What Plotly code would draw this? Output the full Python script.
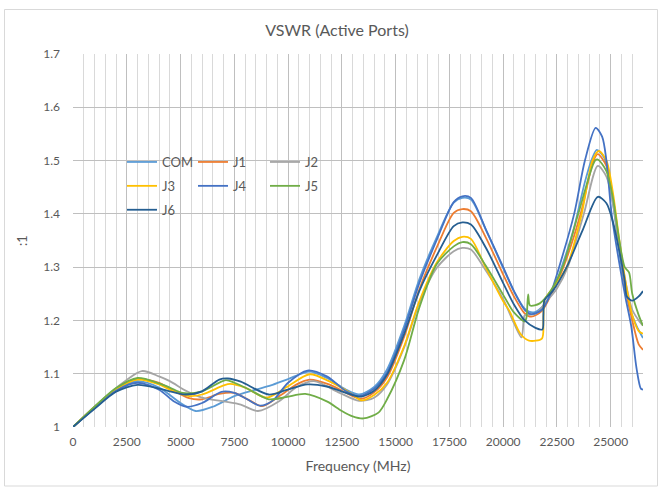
import plotly.graph_objects as go

# ---------------- data ----------------
COM_F = [0, 1000, 2000, 3000, 4000, 5000, 5700, 6500, 7500, 8500, 9200, 10000, 11000, 11800, 12700, 13300,
         14000, 14600, 15400, 16100, 16900, 17700, 18100, 18500, 19200, 20000, 20500, 21000, 21400, 21800,
         22300, 22800, 23300, 23800, 24100, 24350, 24700, 25100, 25500, 25900, 26200, 26500]
COM_V = [1.0, 1.036, 1.07, 1.086, 1.074, 1.045, 1.03, 1.038, 1.058, 1.07, 1.078, 1.09, 1.104, 1.092, 1.07, 1.061,
         1.075, 1.108, 1.19, 1.277, 1.355, 1.421, 1.43, 1.427, 1.37, 1.298, 1.255, 1.222, 1.215, 1.225,
         1.255, 1.31, 1.375, 1.46, 1.5, 1.52, 1.505, 1.42, 1.3, 1.22, 1.19, 1.167]

J1_F = [0, 1000, 2000, 3000, 4000, 4500, 5400, 6000, 6800, 7500, 8200, 8800, 9600, 10400, 11000, 11900, 13000,
        13400, 14000, 14600, 15400, 16100, 16900, 17700, 18100, 18500, 19200, 20000, 20500, 21000, 21300, 21800,
        22300, 22800, 23600, 24200, 24400, 24800, 25100, 25400, 25700, 26000, 26300, 26500]
J1_V = [1.0, 1.037, 1.071, 1.09, 1.083, 1.072, 1.054, 1.052, 1.062, 1.064, 1.05, 1.039, 1.058, 1.08, 1.089, 1.08, 1.058,
        1.053, 1.065, 1.093, 1.17, 1.258, 1.336, 1.402, 1.409, 1.405, 1.355, 1.286, 1.245, 1.213, 1.207, 1.218,
        1.255, 1.3, 1.4, 1.5, 1.512, 1.49, 1.43, 1.34, 1.26, 1.2, 1.155, 1.145]

J2_F = [0, 1000, 2000, 3200, 4000, 4500, 5300, 6000, 7000, 7800, 8600, 9600, 10400, 11200, 12400, 13300, 14000,
        14600, 15400, 16100, 16900, 17700, 18100, 18500, 19200, 20000, 20500, 20850, 20950, 21000, 21500, 22000,
        22500, 23000, 23750, 24400, 24800, 25100, 25400, 25700, 26000, 26300, 26500]
J2_V = [1.0, 1.038, 1.073, 1.105, 1.095, 1.086, 1.067, 1.055, 1.048, 1.042, 1.03, 1.049, 1.075, 1.086, 1.064, 1.049, 1.055,
        1.08, 1.15, 1.233, 1.298, 1.33, 1.336, 1.333, 1.293, 1.24, 1.195, 1.168, 1.2, 1.21, 1.212, 1.235,
        1.26, 1.3, 1.4, 1.49, 1.47, 1.42, 1.34, 1.27, 1.22, 1.2, 1.19]

J3_F = [0, 1000, 2000, 3000, 4000, 4500, 5400, 6000, 7000, 7300, 8000, 9000, 9900, 11000, 11900, 13000, 13400,
        14000, 14600, 15400, 16100, 16900, 17700, 18100, 18500, 19200, 20000, 20300, 20800, 21200, 21800, 21870,
        21920, 22300, 22950, 23650, 24150, 24450, 24800, 25100, 25400, 25700, 26000, 26300, 26500]
J3_V = [1.0, 1.037, 1.071, 1.089, 1.08, 1.07, 1.058, 1.061, 1.078, 1.081, 1.074, 1.055, 1.074, 1.099, 1.086, 1.061, 1.05,
        1.06, 1.083, 1.152, 1.236, 1.308, 1.349, 1.357, 1.353, 1.298, 1.236, 1.217, 1.175, 1.162, 1.166, 1.2,
        1.238, 1.26, 1.3, 1.4, 1.5, 1.518, 1.5, 1.44, 1.35, 1.27, 1.21, 1.18, 1.175]

J4_F = [0, 1000, 2000, 3000, 4000, 4700, 5300, 6000, 6900, 7500, 8100, 8700, 9300, 10000, 10900, 11800, 12700,
        13300, 14000, 14600, 15400, 16100, 16900, 17700, 18100, 18500, 19200, 20000, 20500, 21000, 21300, 21800,
        22200, 22600, 23300, 23800, 24300, 24600, 24800, 25040, 25430, 25700, 25950, 26200, 26400, 26500]
J4_V = [1.0, 1.035, 1.068, 1.083, 1.07, 1.048, 1.038, 1.045, 1.066, 1.064, 1.052, 1.04, 1.05, 1.083, 1.106, 1.095, 1.067,
        1.058, 1.072, 1.102, 1.183, 1.27, 1.35, 1.422, 1.433, 1.43, 1.37, 1.3, 1.255, 1.22, 1.212, 1.22,
        1.25, 1.3, 1.4, 1.5, 1.5615, 1.545, 1.5, 1.4, 1.3, 1.24, 1.19, 1.11, 1.072, 1.07]

J5_F = [0, 1000, 2000, 3000, 4000, 4500, 5100, 6000, 7100, 7500, 8200, 9100, 9900, 10800, 11800, 12500, 13000,
        13500, 14200, 14600, 15400, 16100, 16900, 17700, 18100, 18500, 19200, 20000, 20500, 21000, 21080, 21160,
        21250, 21700, 22200, 22760, 23490, 24270, 24400, 24800, 25100, 25400, 25650, 25850, 26000, 26300, 26500]
J5_V = [1.0, 1.038, 1.073, 1.092, 1.082, 1.074, 1.064, 1.067, 1.088, 1.083, 1.07, 1.052, 1.056, 1.062, 1.048, 1.03, 1.02,
        1.016, 1.027, 1.052, 1.126, 1.224, 1.305, 1.339, 1.347, 1.343, 1.302, 1.248, 1.215, 1.198, 1.205, 1.249,
        1.228, 1.232, 1.255, 1.3, 1.4, 1.5, 1.502, 1.48, 1.43, 1.35, 1.3, 1.29, 1.25, 1.21, 1.19]

J6_F = [0, 1000, 2000, 3000, 4000, 4500, 5200, 6000, 6800, 7200, 7800, 9100, 9900, 10900, 11800, 13000, 13400,
        14000, 14600, 15400, 16100, 16900, 17700, 18100, 18500, 19200, 20000, 20500, 21000, 21500, 21820, 21870,
        21920, 22300, 22950, 23700, 24400, 24800, 25100, 25400, 25650, 25750, 26000, 26300, 26500]
J6_V = [1.0, 1.034, 1.066, 1.079, 1.072, 1.067, 1.061, 1.067, 1.089, 1.091, 1.085, 1.061, 1.069, 1.08, 1.076, 1.06, 1.057,
        1.068, 1.098, 1.175, 1.255, 1.321, 1.377, 1.384, 1.38, 1.336, 1.27, 1.23, 1.2, 1.186, 1.183, 1.21,
        1.238, 1.255, 1.3, 1.37, 1.432, 1.42, 1.385, 1.33, 1.275, 1.245, 1.237, 1.245, 1.255]

SERIES_NAMES = ["COM", "J1", "J2", "J3", "J4", "J5", "J6"]
X_TICKS = [0, 2500, 5000, 7500, 10000, 12500, 15000, 17500, 20000, 22500, 25000]
Y_TICKS = [1, 1.1, 1.2, 1.3, 1.4, 1.5, 1.6, 1.7]

# ---------------- styling ----------------
COLORS = {"COM": "#5B9BD5", "J1": "#ED7D31", "J2": "#A5A5A5", "J3": "#FFC000",
          "J4": "#4472C4", "J5": "#70AD47", "J6": "#255E91"}
LEGEND_OF = {"COM": "legend", "J3": "legend", "J6": "legend",
             "J1": "legend2", "J4": "legend2",
             "J2": "legend3", "J5": "legend3"}
FONT = "Lato, 'Open Sans', sans-serif"
TXT = "#595959"

data = {"COM": (COM_F, COM_V), "J1": (J1_F, J1_V), "J2": (J2_F, J2_V), "J3": (J3_F, J3_V),
        "J4": (J4_F, J4_V), "J5": (J5_F, J5_V), "J6": (J6_F, J6_V)}

fig = go.Figure()
for name in SERIES_NAMES:
    fx, fy = data[name]
    fig.add_trace(go.Scatter(
        x=fx, y=fy, name=name, mode="lines",
        line=dict(color=COLORS[name], width=1.8, shape="spline", smoothing=0.8),
        legend=LEGEND_OF[name], legendgroup=name,
    ))

L, R, T, B = 73, 19, 54, 60
W, H = 662, 487
PW, PH = W - L - R, H - T - B


def px2x(px):
    return (px - L) / PW


def px2y(py):
    return (H - B - py) / PH


leg_common = dict(bgcolor="rgba(255,255,255,0)", borderwidth=0, tracegroupgap=4,
                  font=dict(family=FONT, size=13, color=TXT),
                  xanchor="left", yanchor="top", itemwidth=30)

fig.update_layout(
    width=W, height=H,
    margin=dict(l=L, r=R, t=T, b=B),
    paper_bgcolor="white", plot_bgcolor="white",
    font=dict(family=FONT, color=TXT, size=12),
    title=dict(text="VSWR (Active Ports)", x=337 / W, xref="container", xanchor="center",
               y=1 - 30 / H, yref="container", yanchor="middle",
               font=dict(family=FONT, size=16, color=TXT)),
    showlegend=True,
    legend=dict(x=px2x(122), y=px2y(147), **leg_common),
    legend2=dict(x=px2x(193), y=px2y(147), **leg_common),
    legend3=dict(x=px2x(265), y=px2y(147), **leg_common),
    xaxis=dict(range=[0, 26500], tickvals=X_TICKS, ticktext=[str(v) for v in X_TICKS],
               showgrid=True, gridcolor="#BFBFBF", gridwidth=1,
               minor=dict(dtick=500, tick0=0, showgrid=True, gridcolor="#D9D9D9", gridwidth=1),
               zeroline=False, showline=False, ticks="",
               tickfont=dict(family=FONT, size=12, color=TXT), ticklabelstandoff=6,
               title=dict(text="Frequency (MHz)", font=dict(family=FONT, size=14, color=TXT), standoff=13)),
    yaxis=dict(range=[1, 1.7], tickvals=Y_TICKS, ticktext=["1", "1.1", "1.2", "1.3", "1.4", "1.5", "1.6", "1.7"],
               showgrid=True, gridcolor="#BFBFBF", gridwidth=1,
               zeroline=False, showline=False, ticks="",
               tickfont=dict(family=FONT, size=12, color=TXT), ticklabelstandoff=12,
               title=dict(text=":1", font=dict(family=FONT, size=13, color=TXT), standoff=12)),
    shapes=[
        dict(type="rect", xref="paper", yref="paper", layer="between",
             x0=px2x(132), x1=px2x(347), y0=px2y(222), y1=px2y(146),
             fillcolor="white", line=dict(width=0)),
        dict(type="rect", xref="paper", yref="paper", layer="above",
             x0=px2x(4.5), x1=px2x(657.5), y0=px2y(486), y1=px2y(9.5),
             fillcolor="rgba(0,0,0,0)", line=dict(color="#D9D9D9", width=1)),
    ],
)

fig.write_html("out.html",
               config={"displayModeBar": False},
               post_script="document.body.style.margin='0';document.body.style.padding='0';")
